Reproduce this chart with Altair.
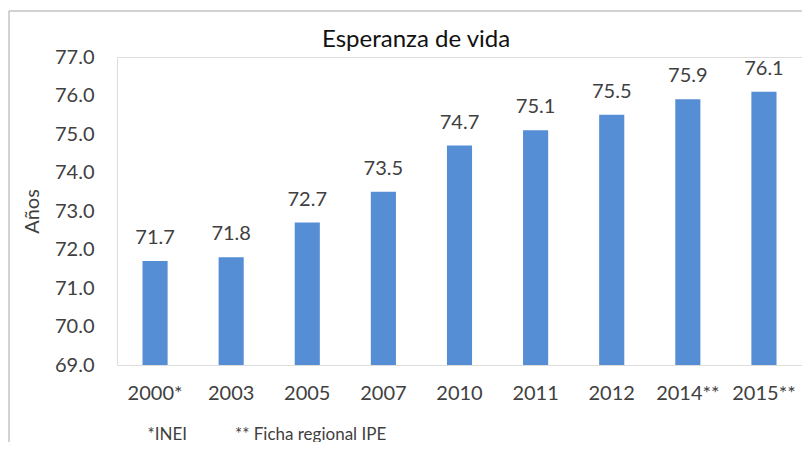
import altair as alt
import pandas as pd

years = ["2000*", "2003", "2005", "2007", "2010", "2011", "2012", "2014**", "2015**"]
values = [71.7, 71.8, 72.7, 73.5, 74.7, 75.1, 75.5, 75.9, 76.1]
y_ticks = [69, 70, 71, 72, 73, 74, 75, 76, 77]

df = pd.DataFrame({"year": years, "value": values})
FONT = "Lato"
TXT = "#404040"
GRAY = "#a6a6a6"
NB = "\u00a0"
footnote = "*INEI" + NB * 11 + "** Ficha regional IPE"

base = alt.Chart(df).encode(
    x=alt.X(
        "year:N",
        sort=years,
        scale=alt.Scale(paddingInner=0.67, paddingOuter=0.335),
        axis=alt.Axis(
            title=footnote,
            labelAngle=0,
            labelFontSize=20,
            labelFont=FONT,
            labelColor=TXT,
            labelPadding=18,
            ticks=False,
            domain=False,
            titleFont=FONT,
            titleFontSize=17,
            titleFontWeight="normal",
            titleColor=TXT,
            titleAnchor="start",
            titleAlign="left",
            titleX=30,
            titleY=69,
            titleBaseline="middle",
        ),
    ),
    y=alt.Y(
        "value:Q",
        scale=alt.Scale(domain=[69, 77], zero=False, nice=False),
        axis=alt.Axis(
            values=y_ticks,
            format=".1f",
            title="Años",
            grid=False,
            ticks=False,
            domain=False,
            labelFont=FONT,
            labelFontSize=20,
            labelColor=TXT,
            labelPadding=23,
            titleFont=FONT,
            titleFontSize=20,
            titleFontWeight="normal",
            titleColor=TXT,
            titlePadding=12,
        ),
    ),
)

bars = base.mark_bar(color="#558ed5").encode(y2=alt.datum(69))
labels = base.mark_text(
    dy=-17, baseline="alphabetic", fontSize=20, font=FONT, color=TXT
).encode(text=alt.Text("value:Q", format=".1f"))

frame = alt.Chart(pd.DataFrame({"a": [0]})).mark_rect(
    fillOpacity=0, stroke=GRAY, strokeWidth=1
).encode(
    x=alt.value(-108), x2=alt.value(760), y=alt.value(-46), y2=alt.value(460)
)

chart = (
    alt.layer(frame, bars, labels)
    .properties(
        width=685,
        height=308,
        padding={"left": 109, "top": 49, "right": 0, "bottom": 77},
        autosize=alt.AutoSizeParams(type="none"),
        title=alt.TitleParams(
            "Esperanza de vida",
            font=FONT,
            fontSize=24,
            fontWeight="normal",
            color="#111111",
            anchor="start",
            frame="group",
            dx=205,
            dy=46,
            offset=5,
        ),
    )
    .configure_view(stroke=GRAY, strokeWidth=1)
    .configure(background="white")
)

chart.save("out.html", embed_options={"renderer": "svg", "actions": False})
